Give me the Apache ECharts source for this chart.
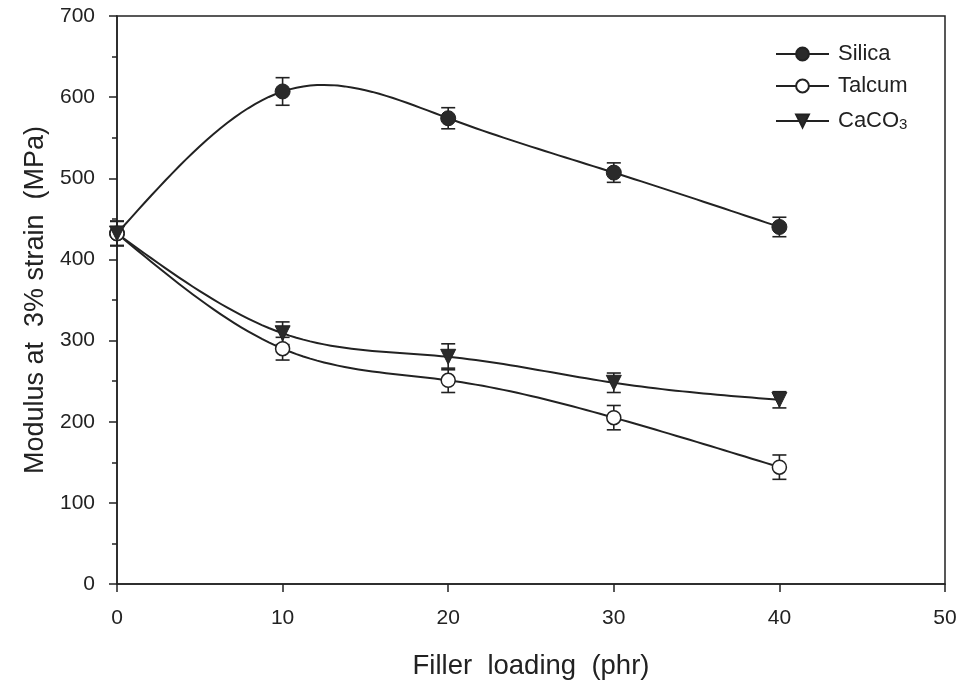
<!DOCTYPE html>
<html><head><meta charset="utf-8">
<script src="https://cdn.jsdelivr.net/npm/echarts@6/dist/echarts.min.js"></script>
<style>html,body{margin:0;padding:0;background:#fff}#c{width:964px;height:685px}</style>
</head><body><div id="c"></div>
<script>
const loading = [0, 10, 20, 30, 40];
const silica = [432, 607, 574, 507, 440];
const silicaErr = [15, 17, 13, 12, 12];
const talcum = [432, 290, 251, 205, 144];
const talcumErr = [15, 14, 15, 15, 15];
const caco3 = [432, 309, 280, 248, 227];
const caco3Err = [15, 14, 16, 12, 10];
const xTicks = [0, 10, 20, 30, 40, 50];
const yTicks = [0, 100, 200, 300, 400, 500, 600, 700];

const ink = '#222';
const font = 'Liberation Sans, Arial, sans-serif';

function pts(vals) { return loading.map((x, i) => [x, vals[i]]); }
function errData(vals, errs) { return loading.map((x, i) => [x, vals[i] - errs[i], vals[i] + errs[i]]); }

// natural cubic spline (rendering only, like a smoothed line)
function splineEval(xs, ys, steps) {
  const n = xs.length, h = [], M = new Array(n).fill(0);
  for (let i = 0; i < n - 1; i++) h.push(xs[i + 1] - xs[i]);
  const a = [], b = [], c = [], d = [];
  for (let i = 1; i < n - 1; i++) {
    a.push(h[i - 1]); b.push(2 * (h[i - 1] + h[i])); c.push(h[i]);
    d.push(6 * ((ys[i + 1] - ys[i]) / h[i] - (ys[i] - ys[i - 1]) / h[i - 1]));
  }
  const m = d.length;
  for (let i = 1; i < m; i++) { const w = a[i] / b[i - 1]; b[i] -= w * c[i - 1]; d[i] -= w * d[i - 1]; }
  const sol = new Array(m);
  for (let i = m - 1; i >= 0; i--) sol[i] = (d[i] - (i < m - 1 ? c[i] * sol[i + 1] : 0)) / b[i];
  for (let i = 0; i < m; i++) M[i + 1] = sol[i];
  const out = [];
  for (let i = 0; i < n - 1; i++) {
    for (let s = 0; s <= steps; s++) {
      if (i > 0 && s === 0) continue;
      const x = xs[i] + h[i] * s / steps;
      const A = xs[i + 1] - x, B = x - xs[i];
      const y = M[i] * A * A * A / (6 * h[i]) + M[i + 1] * B * B * B / (6 * h[i]) +
        (ys[i] / h[i] - M[i] * h[i] / 6) * A + (ys[i + 1] / h[i] - M[i + 1] * h[i] / 6) * B;
      out.push([x, y]);
    }
  }
  return out;
}

function curveSeries(vals) {
  return {
    type: 'custom', silent: true, z: 2,
    renderItem: function (params, api) {
      const p = splineEval(loading, vals, 24).map(q => api.coord(q));
      return { type: 'polyline', shape: { points: p }, style: { stroke: ink, lineWidth: 2, fill: null } };
    },
    data: [[loading[0], vals[0]]]
  };
}
function errSeries(vals, errs) {
  return {
    type: 'custom', silent: true, z: 1,
    renderItem: function (params, api) {
      const lo = api.coord([api.value(0), api.value(1)]);
      const hi = api.coord([api.value(0), api.value(2)]);
      const w = 7;
      const st = { stroke: ink, lineWidth: 1.6 };
      return { type: 'group', children: [
        { type: 'line', shape: { x1: lo[0], y1: lo[1], x2: hi[0], y2: hi[1] }, style: st },
        { type: 'line', shape: { x1: lo[0] - w, y1: lo[1], x2: lo[0] + w, y2: lo[1] }, style: st },
        { type: 'line', shape: { x1: hi[0] - w, y1: hi[1], x2: hi[0] + w, y2: hi[1] }, style: st }
      ]};
    },
    data: errData(vals, errs)
  };
}

const chart = echarts.init(document.getElementById('c'));
chart.setOption({
  animation: false,
  backgroundColor: '#fff',
  grid: { left: 117, right: 19, top: 16, bottom: 101, show: true, borderColor: ink, borderWidth: 1.5, backgroundColor: 'transparent' },
  xAxis: {
    type: 'value', min: xTicks[0], max: xTicks[xTicks.length - 1], interval: 10,
    name: 'Filler  loading  (phr)', nameLocation: 'middle', nameGap: 68,
    nameTextStyle: { fontFamily: font, fontSize: 27.5, color: ink },
    axisLine: { lineStyle: { color: ink, width: 1.5 } },
    axisTick: { show: true, inside: false, length: 8, lineStyle: { color: ink, width: 1.5 } },
    axisLabel: { fontFamily: font, fontSize: 21, color: ink, margin: 24 },
    splitLine: { show: false }
  },
  yAxis: {
    type: 'value', min: yTicks[0], max: yTicks[yTicks.length - 1], interval: 100,
    name: 'Modulus at  3% strain  (MPa)', nameLocation: 'middle', nameGap: 67,
    nameTextStyle: { fontFamily: font, fontSize: 27, color: ink },
    axisLine: { show: true, lineStyle: { color: ink, width: 1.5 } },
    axisTick: { show: true, inside: false, length: 8, lineStyle: { color: ink, width: 1.5 } },
    minorTick: { show: true, splitNumber: 2, length: 5, lineStyle: { color: ink, width: 1.5 } },
    axisLabel: { fontFamily: font, fontSize: 21, color: ink, margin: 22 },
    splitLine: { show: false }
  },
  legend: {
    orient: 'vertical', left: 770, top: 38, itemWidth: 53, itemHeight: 16, itemGap: 10,
    lineStyle: { color: ink, width: 2, opacity: 1 },
    textStyle: { fontFamily: font, fontSize: 22, lineHeight: 22, color: ink, padding: [0, 0, 0, 4],
      rich: { a: { fontFamily: font, fontSize: 22, lineHeight: 22, color: ink }, s: { fontFamily: font, fontSize: 15, lineHeight: 12, color: ink, verticalAlign: 'bottom', padding: [10, 0, 0, 0] } } },
    formatter: function (n) { return n === 'CaCO3' ? '{a|CaCO}{s|3}' : n; },
    data: ['Silica', 'Talcum', 'CaCO3']
  },
  series: [
    errSeries(silica, silicaErr),
    errSeries(talcum, talcumErr),
    errSeries(caco3, caco3Err),
    curveSeries(silica),
    curveSeries(talcum),
    curveSeries(caco3),
    { name: 'Silica', type: 'line', data: pts(silica), symbol: 'circle', symbolSize: 15, z: 3,
      lineStyle: { color: ink, width: 2, opacity: 0 }, itemStyle: { color: '#2a2a2a', borderColor: ink, borderWidth: 1 } },
    { name: 'Talcum', type: 'line', data: pts(talcum), symbol: 'circle', symbolSize: 14, z: 3,
      lineStyle: { color: ink, width: 2, opacity: 0 }, itemStyle: { color: '#fff', borderColor: ink, borderWidth: 1.5 } },
    { name: 'CaCO3', type: 'line', data: pts(caco3), symbol: 'triangle', symbolRotate: 180, symbolSize: 15, z: 3,
      lineStyle: { color: ink, width: 2, opacity: 0 }, itemStyle: { color: '#2a2a2a', borderColor: ink, borderWidth: 1 } }
  ]
});
</script></body></html>
